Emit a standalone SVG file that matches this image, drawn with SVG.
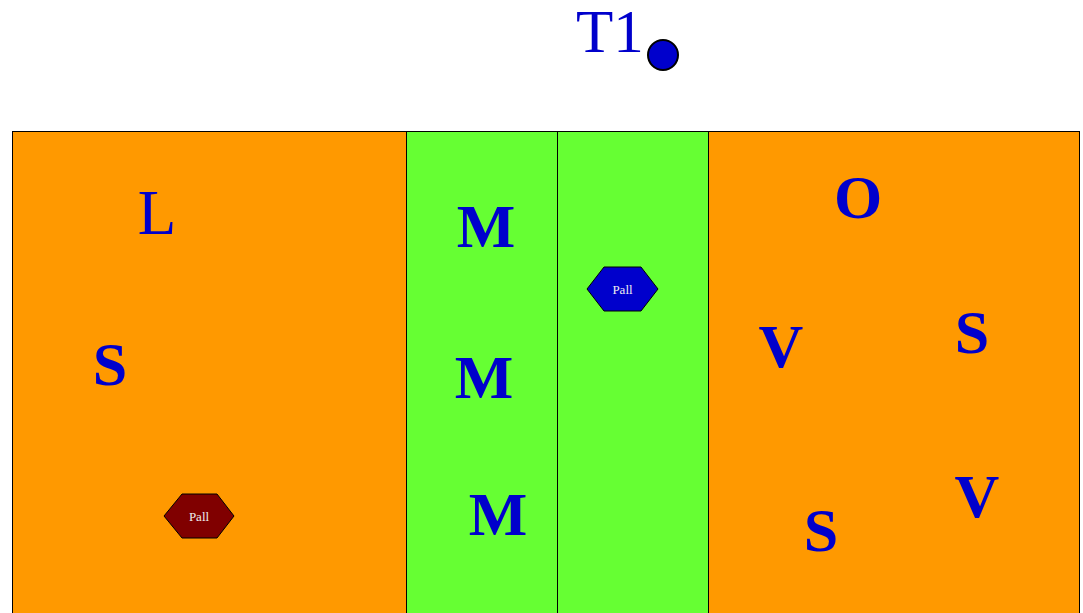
<svg xmlns="http://www.w3.org/2000/svg" width="1083" height="613" viewBox="0 0 1083 613">
<style>
.zone{stroke:#000;stroke-width:1}
.or{fill:#FF9900}
.gr{fill:#66FF33}
.lbl{font-family:"Liberation Serif",serif;fill:#0000CC;text-anchor:middle}
.b{font-weight:bold;font-size:62px}
.pall{font-family:"Liberation Serif",serif;font-size:13px;fill:#EEEEEE;text-anchor:middle}
.hex{stroke:#000;stroke-width:1}
</style>
<rect width="1083" height="613" fill="#fff"/>
<g id="zone-left"><rect class="zone or" x="12.5" y="131.5" width="394" height="490"/></g>
<g id="zone-mid1"><rect class="zone gr" x="406.5" y="131.5" width="151" height="490"/></g>
<g id="zone-mid2"><rect class="zone gr" x="557.5" y="131.5" width="151" height="490"/></g>
<g id="zone-right"><rect class="zone or" x="708.5" y="131.5" width="371" height="490"/></g>
<g id="T1"><text class="lbl" x="610" y="52" font-size="61">T1</text><circle cx="663" cy="55" r="15" fill="#0000CC" stroke="#000" stroke-width="2"/></g>
<g id="L"><text class="lbl" x="157" y="234" font-size="63">L</text></g>
<g id="S1"><text class="lbl b" x="110" y="385">S</text></g>
<g id="M1"><text class="lbl b" x="486" y="247">M</text></g>
<g id="M2"><text class="lbl b" x="484" y="398">M</text></g>
<g id="M3"><text class="lbl b" x="498" y="535">M</text></g>
<g id="O"><text class="lbl b" x="858" y="218">O</text></g>
<g id="V1"><text class="lbl b" x="781" y="367">V</text></g>
<g id="S2"><text class="lbl b" x="972" y="353">S</text></g>
<g id="V2"><text class="lbl b" x="977" y="517">V</text></g>
<g id="S3"><text class="lbl b" x="821" y="551">S</text></g>
<g id="pall-red"><polygon class="hex" fill="#800000" points="164,516 182,494 217,494 234,516 217,538 182,538"/><text class="pall" x="199" y="521">Pall</text></g>
<g id="pall-blue"><polygon class="hex" fill="#0000CC" points="587,289 604,267 641,267 658,289 641,311 604,311"/><text class="pall" x="622.5" y="294">Pall</text></g>
<g id="connectors"></g>
</svg>
